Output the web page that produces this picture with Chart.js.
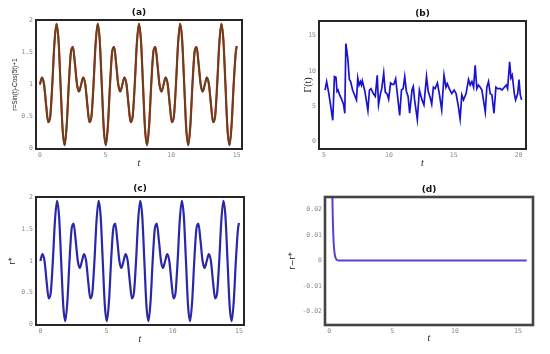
<!DOCTYPE html>
<html>
<head>
<meta charset="utf-8">
<script src="https://cdn.jsdelivr.net/npm/chart.js@4.4.1/dist/chart.umd.min.js"></script>
<style>
  html, body { margin: 0; padding: 0; background: #fff; }
  #page { position: relative; width: 550px; height: 354px; overflow: hidden; }
  canvas { position: absolute; }
</style>
</head>
<body>
<div id="page">
  <canvas id="chartA" width="270" height="175" style="left:0;top:0"></canvas>
  <canvas id="chartB" width="275" height="175" style="left:275px;top:0"></canvas>
  <canvas id="chartC" width="270" height="179" style="left:0;top:175px"></canvas>
  <canvas id="chartD" width="275" height="179" style="left:275px;top:175px"></canvas>
</div>
<script>
// r(t) samples, shared by panels (a) and (c)
const tCurve = [0, 0.157, 0.314, 0.471, 0.628, 0.785, 0.942, 1.100, 1.257, 1.414, 1.571, 1.728, 1.885, 2.042, 2.199, 2.356, 2.513, 2.670, 2.827, 2.985,
  3.142, 3.299, 3.456, 3.613, 3.770, 3.927, 4.084, 4.241, 4.398, 4.555, 4.712, 4.869, 5.027, 5.184, 5.341, 5.498, 5.655, 5.812, 5.969, 6.126,
  6.283, 6.440, 6.597, 6.754, 6.912, 7.069, 7.226, 7.383, 7.540, 7.697, 7.854, 8.011, 8.168, 8.325, 8.482, 8.639, 8.796, 8.954, 9.111, 9.268,
  9.425, 9.582, 9.739, 9.896, 10.053, 10.210, 10.367, 10.524, 10.681, 10.838, 10.996, 11.153, 11.310, 11.467, 11.624, 11.781, 11.938, 12.095, 12.252, 12.409,
  12.566, 12.723, 12.881, 13.038, 13.195, 13.352, 13.509, 13.666, 13.823, 13.980, 14.137, 14.294, 14.451, 14.608, 14.765, 14.923, 15.0];
const rCurve = [1.00, 1.11, 1.00, 0.68, 0.41, 0.50, 1.00, 1.63, 1.95, 1.70, 1.00, 0.30, 0.05, 0.37, 1.00, 1.50, 1.59, 1.32, 1.00, 0.89,
  1.00, 1.11, 1.00, 0.68, 0.41, 0.50, 1.00, 1.63, 1.95, 1.70, 1.00, 0.30, 0.05, 0.37, 1.00, 1.50, 1.59, 1.32, 1.00, 0.89,
  1.00, 1.11, 1.00, 0.68, 0.41, 0.50, 1.00, 1.63, 1.95, 1.70, 1.00, 0.30, 0.05, 0.37, 1.00, 1.50, 1.59, 1.32, 1.00, 0.89,
  1.00, 1.11, 1.00, 0.68, 0.41, 0.50, 1.00, 1.63, 1.95, 1.70, 1.00, 0.30, 0.05, 0.37, 1.00, 1.50, 1.59, 1.32, 1.00, 0.89,
  1.00, 1.11, 1.00, 0.68, 0.41, 0.50, 1.00, 1.63, 1.95, 1.70, 1.00, 0.30, 0.05, 0.37, 1.00, 1.50, 1.60];

// Gamma(t), panel (b)
const tGamma = [5.08, 5.2, 5.35, 5.5, 5.67, 5.8, 5.92, 6.0, 6.08, 6.2, 6.35, 6.5, 6.6, 6.68, 6.83, 6.95, 7.05, 7.2, 7.35, 7.5,
  7.6, 7.7, 7.8, 7.88, 7.95, 8.15, 8.38, 8.5, 8.62, 8.8, 8.95, 9.1, 9.2, 9.35, 9.45, 9.6, 9.72, 9.87, 9.98, 10.13,
  10.25, 10.38, 10.52, 10.7, 10.83, 10.97, 11.1, 11.22, 11.35, 11.48, 11.6, 11.78, 11.88, 11.98, 12.19, 12.35, 12.45, 12.55, 12.7, 12.9,
  13.03, 13.17, 13.3, 13.43, 13.56, 13.74, 13.9, 14.07, 14.25, 14.4, 14.5, 14.65, 14.85, 15.03, 15.18, 15.36, 15.49, 15.62, 15.75, 15.95,
  16.14, 16.27, 16.4, 16.53, 16.65, 16.78, 16.9, 17.04, 17.17, 17.43, 17.55, 17.68, 17.81, 17.94, 18.1, 18.25, 18.38, 18.59, 18.72, 18.9,
  19.05, 19.15, 19.31, 19.41, 19.51, 19.67, 19.77, 19.93, 20.03, 20.13, 20.23];
const gamma = [7.3, 8.5, 7.0, 5.2, 3.0, 9.2, 9.1, 7.1, 7.3, 6.6, 6.0, 5.3, 4.0, 13.9, 11.8, 8.8, 8.5, 7.3, 6.6, 5.9,
  9.0, 8.0, 8.5, 8.0, 8.6, 7.1, 4.4, 7.3, 7.5, 6.8, 6.4, 9.4, 5.2, 6.8, 7.5, 9.7, 7.0, 6.7, 6.0, 8.3,
  8.1, 8.1, 8.9, 5.9, 3.7, 7.3, 7.5, 9.2, 7.1, 6.4, 4.0, 7.3, 7.8, 5.9, 3.1, 7.3, 6.6, 5.9, 5.2, 9.2,
  7.1, 6.3, 5.3, 7.7, 7.5, 8.3, 6.6, 4.5, 9.4, 7.7, 8.2, 7.5, 6.8, 7.3, 6.8, 4.9, 3.2, 6.6, 5.9, 6.8,
  8.8, 8.0, 8.5, 7.7, 10.8, 7.5, 8.0, 7.7, 7.3, 4.2, 7.7, 8.5, 6.8, 6.6, 4.0, 7.7, 7.5, 7.5, 7.3, 7.7,
  8.0, 7.5, 11.3, 9.0, 9.4, 6.8, 5.9, 6.8, 8.8, 6.6, 5.9];

// r - r*, panel (d)
const tDiff = [0.2, 0.25, 0.3, 0.35, 0.4, 0.45, 0.5, 0.6, 0.7, 0.8, 1.0, 15.7];
const rDiff = [0.045, 0.024, 0.013, 0.007, 0.0038, 0.002, 0.0011, 0.0003, 0.0001, 0, 0, 0];

// tick labels
const xTicks15 = [0, 5, 10, 15];
const xTicksB = [5, 10, 15, 20];
const yTicksR = [0, 0.5, 1, 1.5, 2];
const yTicksB = [0, 5, 10, 15];
const yTicksD = [-0.02, -0.01, 0, 0.01, 0.02];

const tickFont = { family: 'DejaVu Sans Mono', size: 6.5 };
const tickColor = '#8a8a8a';

// draws the box around the plot area
const framePlugin = {
  id: 'frame',
  afterDraw(chart, args, opts) {
    const a = chart.chartArea;
    const ctx = chart.ctx;
    ctx.save();
    ctx.strokeStyle = opts.color;
    ctx.lineWidth = opts.width;
    ctx.strokeRect(a.left, a.top, a.right - a.left, a.bottom - a.top);
    ctx.restore();
  }
};

function points(xs, ys) {
  return xs.map((x, i) => ({ x: x, y: ys[i] }));
}

function makeChart(id, datasets, c) {
  return new Chart(document.getElementById(id), {
    type: 'line',
    data: { datasets: datasets },
    options: {
      responsive: false,
      animation: false,
      layout: { padding: { left: 0, top: 0, bottom: 0, right: c.padRight } },
      elements: { point: { radius: 0 } },
      plugins: {
        legend: { display: false },
        tooltip: { enabled: false },
        title: {
          display: true, text: c.title, fullSize: false, color: '#111',
          font: { family: 'DejaVu Sans', size: 9, weight: 'bold', lineHeight: 12 / 9 },
          padding: { top: c.titleTop, bottom: c.titleBottom }
        },
        frame: { color: c.frameColor || '#262626', width: c.frameWidth || 2 }
      },
      scales: {
        x: {
          type: 'linear', min: c.xMin, max: c.xMax,
          grid: { display: false, drawTicks: false }, border: { display: false },
          afterBuildTicks: s => { s.ticks = c.xTicks.map(v => ({ value: v })); },
          afterFit: s => { s.height = c.xHeight; },
          ticks: { font: tickFont, color: tickColor, padding: 2, maxRotation: 0, callback: v => String(v) },
          title: { display: true, text: 't', color: '#222',
            font: { family: 'Liberation Serif', size: 10, style: 'italic' },
            padding: { top: 0, bottom: c.xTitleBottom } }
        },
        y: {
          type: 'linear', min: c.yMin, max: c.yMax,
          grid: { display: false, drawTicks: false }, border: { display: false },
          afterBuildTicks: s => { s.ticks = c.yTicks.map(v => ({ value: v })); },
          afterFit: s => { s.width = c.yWidth; },
          ticks: { font: tickFont, color: tickColor, padding: c.yTickPad, callback: v => String(v) },
          title: { display: true, text: c.yLabel, color: '#1a1a1a', font: c.yFont,
            padding: { top: c.yTitleTop, bottom: 0 } }
        }
      }
    },
    plugins: [framePlugin]
  });
}

// (a) two nearly identical curves: dark olive drawn over red
makeChart('chartA', [
  { data: points(tCurve, rCurve), borderColor: '#e0201a', borderWidth: 2.2, cubicInterpolationMode: 'monotone', order: 2 },
  { data: points(tCurve, rCurve), borderColor: '#5c4620', borderWidth: 1.8, cubicInterpolationMode: 'monotone', order: 1 }
], {
  title: '(a)', titleTop: 7, titleBottom: 1, padRight: 28,
  xMin: -0.3, xMax: 15.4, xTicks: xTicks15, xHeight: 26, xTitleBottom: 6,
  yMin: -0.01, yMax: 2.01, yTicks: yTicksR, yWidth: 36, yTickPad: 3,
  yLabel: 'r=Sin(t)-Cos(5t)+1', yFont: { family: 'Liberation Sans', size: 6.5 }, yTitleTop: 11
});

// (b)
makeChart('chartB', [
  { data: points(tGamma, gamma), borderColor: '#1a12d0', borderWidth: 1.7, tension: 0 }
], {
  title: '(b)', titleTop: 8, titleBottom: 1, padRight: 24,
  xMin: 4.61, xMax: 20.57, xTicks: xTicksB, xHeight: 26, xTitleBottom: 6,
  yMin: -1.07, yMax: 17.1, yTicks: yTicksB, yWidth: 44, yTickPad: 3,
  yLabel: 'Γ(t)', yFont: { family: 'Liberation Serif', size: 10 }, yTitleTop: 27
});

// (c)
makeChart('chartC', [
  { data: points(tCurve, rCurve), borderColor: '#2a28a8', borderWidth: 2.2, cubicInterpolationMode: 'monotone' }
], {
  title: '(c)', titleTop: 8, titleBottom: 2, padRight: 26,
  xMin: -0.33, xMax: 15.38, xTicks: xTicks15, xHeight: 29, xTitleBottom: 8.5,
  yMin: -0.01, yMax: 2.01, yTicks: yTicksR, yWidth: 36, yTickPad: 3,
  yLabel: 'r*', yFont: { family: 'DejaVu Sans', size: 8 }, yTitleTop: 8.5
});

// (d)
makeChart('chartD', [
  { data: points(tDiff, rDiff), borderColor: '#5a3fd6', borderWidth: 2, cubicInterpolationMode: 'monotone' }
], {
  title: '(d)', titleTop: 9, titleBottom: 1, padRight: 17,
  xMin: -0.34, xMax: 16.2, xTicks: xTicks15, xHeight: 29, xTitleBottom: 10,
  yMin: -0.0252, yMax: 0.0249, yTicks: yTicksD, yWidth: 50, yTickPad: 3,
  yLabel: 'r−r*', yFont: { family: 'DejaVu Sans', size: 8 }, yTitleTop: 13.5,
  frameColor: '#444', frameWidth: 2.6
});
</script>
</body>
</html>
